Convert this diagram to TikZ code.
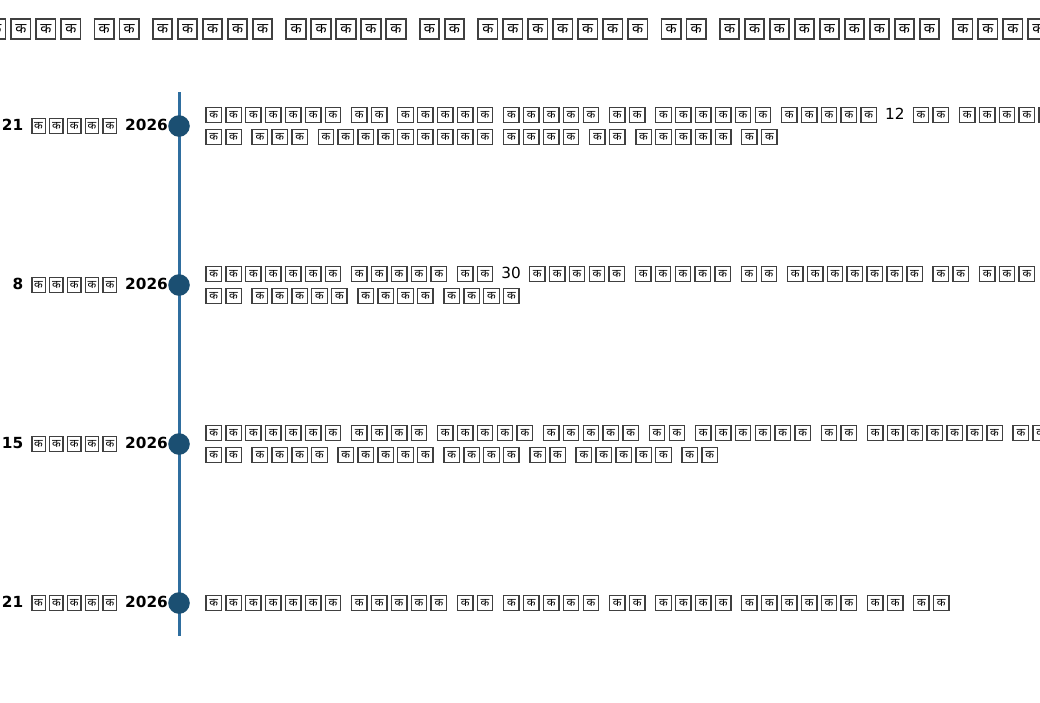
\documentclass[tikz,border=0pt]{standalone}
\usepackage{fontspec}
\usepackage{graphicx}
\usepackage{xcolor}
\usepackage{tikz}
\usetikzlibrary{positioning}
\setmainfont{DejaVu Sans}
\newfontfamily\devfont[Script=Devanagari]{Noto Sans}

\definecolor{lineblue}{HTML}{2F6E9F}
\definecolor{dotblue}{HTML}{1B4F72}

% one missing-glyph box, pitch as option
\newcommand{\tofu}[1][1.3em]{\makebox[#1]{{\setlength{\fboxsep}{0pt}\setlength{\fboxrule}{0.09em}\color{black!75}\fbox{\makebox[\dimexpr#1-0.38em\relax]{\rule[-0.13em]{0pt}{0.91em}\color{black}\raisebox{0.08em}{\scalebox{0.74}{\devfont क}}}}}}}
% a word of n boxes
\newcommand{\tw}[2][1.3em]{\foreach \k in {1,...,#2}{\tofu[#1]}}
\newcommand{\hw}[1]{\tw[1.285em]{#1}}
\newcommand{\dw}[1]{\tw[1.165em]{#1}}

\newcommand{\titlefont}{\fontsize{19.44pt}{23pt}\selectfont\spaceskip=0.435em\relax}
\newcommand{\descfont}{\fontsize{15.3pt}{22pt}\selectfont\spaceskip=0.42em\relax}
\newcommand{\datefont}{\fontsize{15.3pt}{18pt}\selectfont\bfseries\spaceskip=0.42em\relax}

\begin{document}
\begin{tikzpicture}[
    x=1pt, y=-1pt,
    dot/.style={circle, fill=dotblue, minimum size=21.6pt, inner sep=0pt},
    datelabel/.style={font=\datefont, inner sep=0pt},
    desc/.style={font=\descfont, inner sep=0pt, align=left},
    heading/.style={font=\titlefont, inner sep=0pt, anchor=west}
]
    \useasboundingbox (0,0) rectangle (1040,702);

    % Title
    \node[heading] (title) at (-16.8,29) {\hw{4} \hw{2} \hw{5} \hw{5} \hw{2} \hw{7} \hw{2} \hw{9} \hw{4}};

    % Axis
    \coordinate (axtop) at (179,92);
    \coordinate (axbot) at (179,636);
    \draw[lineblue, line width=3pt] (axtop) -- (axbot);

    % Event 1
    \node[dot] (ev1) at (179,126) {};
    \node[datelabel, left=0pt of ev1] (d1) {21 \dw{5} 2026};
    \node[desc, right=13.5pt of ev1] (t1) {\tw{7} \tw{2} \tw{5} \tw{5} \tw{2} \tw{6} \tw{5} 12 \tw{2} \tw{5}\\
        \tw{2} \tw{3} \tw{9} \tw{4} \tw{2} \tw{5} \tw{2}};

    % Event 2
    \node[dot] (ev2) at (179,285) {};
    \node[datelabel, left=0pt of ev2] (d2) {8 \dw{5} 2026};
    \node[desc, right=13.5pt of ev2] (t2) {\tw{7} \tw{5} \tw{2} 30 \tw{5} \tw{5} \tw{2} \tw{7} \tw{2} \tw{3}\\
        \tw{2} \tw{5} \tw{4} \tw{4}};

    % Event 3
    \node[dot] (ev3) at (179,444) {};
    \node[datelabel, left=0pt of ev3] (d3) {15 \dw{5} 2026};
    \node[desc, right=13.5pt of ev3] (t3) {\tw{7} \tw{4} \tw{5} \tw{5} \tw{2} \tw{6} \tw{2} \tw{7} \tw{2}\\
        \tw{2} \tw{4} \tw{5} \tw{4} \tw{2} \tw{5} \tw{2}};

    % Event 4
    \node[dot] (ev4) at (179,603) {};
    \node[datelabel, left=0pt of ev4] (d4) {21 \dw{5} 2026};
    \node[desc, right=13.5pt of ev4] (t4) {\tw{7} \tw{5} \tw{2} \tw{5} \tw{2} \tw{4} \tw{6} \tw{2} \tw{2}};
\end{tikzpicture}
\end{document}
